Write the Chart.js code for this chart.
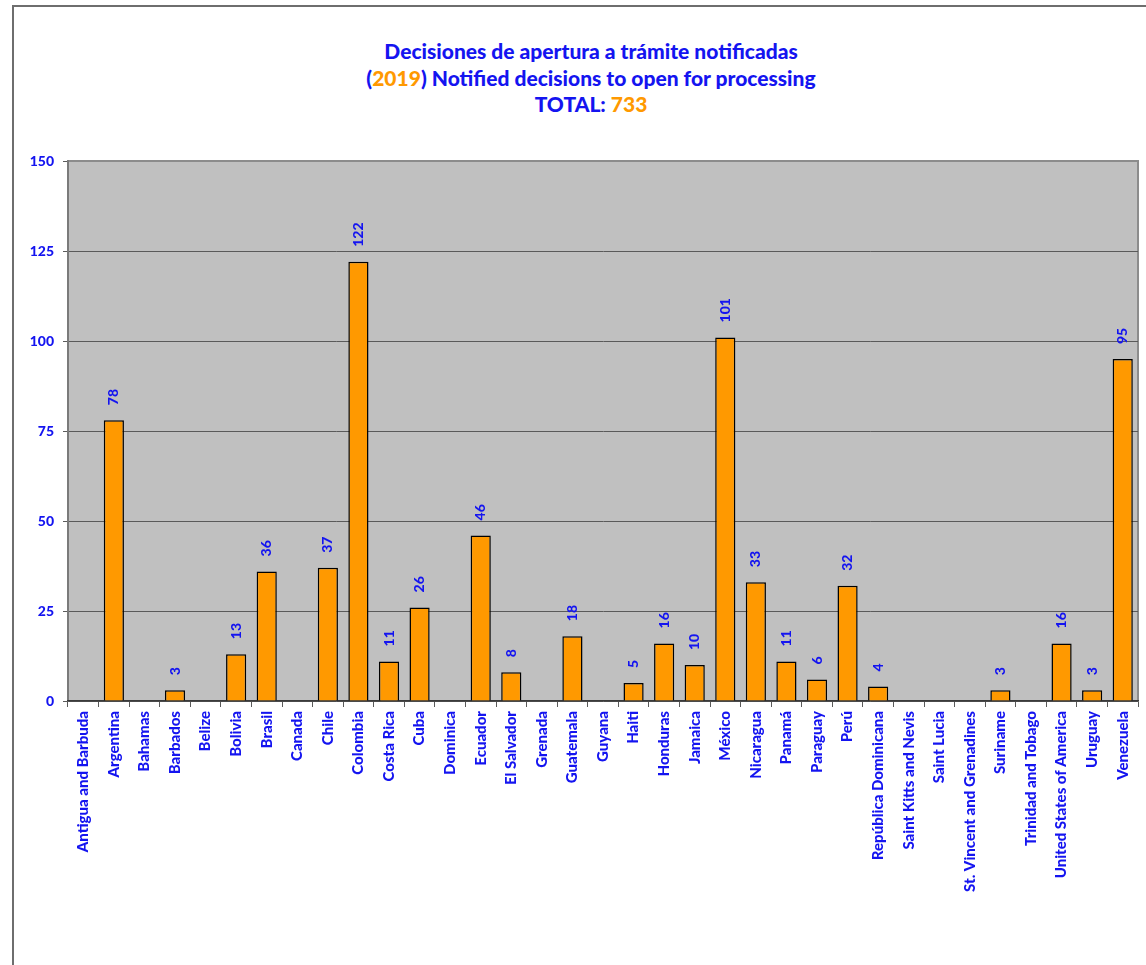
<!DOCTYPE html>
<html>
<head>
<meta charset="utf-8">
<script src="https://cdn.jsdelivr.net/npm/chart.js@4.4.1/dist/chart.umd.min.js"></script>
<style>
    body { margin: 0; background: #fff; }
    #wrap { position: relative; width: 1146px; height: 965px; overflow: hidden; }
    #frame { position: absolute; left: 12px; top: 5px; width: 1200px; height: 1000px;
        border-left: 2px solid #6e6e6e; border-top: 2px solid #6e6e6e; }
    #title { position: absolute; left: 0; top: 38px; width: 1182px; text-align: center;
        font-family: Lato, "Open Sans", sans-serif; font-weight: 900; font-size: 21px;
        line-height: 26.5px; color: #1414f0; }
    #title .hl { color: #ff9900; }
    canvas { position: absolute; left: 0; top: 0; }
</style>
</head>
<body>
<div id="wrap">
    <div id="frame"></div>
    <div id="title">
        <div>Decisiones de apertura a trámite notificadas</div>
        <div>(<span class="hl">2019</span>) Notified decisions to open for processing</div>
        <div>TOTAL: <span class="hl">733</span></div>
    </div>
    <canvas id="chart" width="1146" height="965"></canvas>
</div>
<script>
const paises = [
    "Antigua and Barbuda", "Argentina", "Bahamas", "Barbados", "Belize", "Bolivia", "Brasil",
    "Canada", "Chile", "Colombia", "Costa Rica", "Cuba", "Dominica", "Ecuador", "El Salvador",
    "Grenada", "Guatemala", "Guyana", "Haiti", "Honduras", "Jamaica", "México", "Nicaragua",
    "Panamá", "Paraguay", "Perú", "República Dominicana", "Saint Kitts and Nevis", "Saint Lucia",
    "St. Vincent and Grenadines", "Suriname", "Trinidad and Tobago", "United States of America",
    "Uruguay", "Venezuela"
];
const decisiones = [
    0, 78, 0, 3, 0, 13, 36,
    0, 37, 122, 11, 26, 0, 46, 8,
    0, 18, 0, 5, 16, 10, 101, 33,
    11, 6, 32, 4, 0, 0,
    0, 3, 0, 16,
    3, 95
];
const yTicks = [0, 25, 50, 75, 100, 125, 150];

const AZUL = "#1414f0";
const NARANJA = "#ff9900";
const fuente = "Lato, 'Open Sans', sans-serif";

// fondo gris del area de trazado
const fondoPlot = {
    id: "fondoPlot",
    beforeDraw(chart) {
        const { ctx, chartArea: a } = chart;
        ctx.save();
        ctx.fillStyle = "#c0c0c0";
        ctx.fillRect(a.left, a.top, a.right - a.left, a.bottom - a.top);
        ctx.strokeStyle = "#8c8c8c";
        ctx.lineWidth = 2;
        ctx.beginPath();
        ctx.moveTo(a.left, a.top);
        ctx.lineTo(a.right, a.top);
        ctx.lineTo(a.right, a.bottom);
        ctx.stroke();
        ctx.restore();
    }
};

// etiquetas de valor verticales encima de las barras
const etiquetas = {
    id: "etiquetas",
    afterDatasetsDraw(chart) {
        const { ctx } = chart;
        const meta = chart.getDatasetMeta(0);
        ctx.save();
        ctx.fillStyle = AZUL;
        ctx.font = "900 14px " + fuente;
        ctx.textAlign = "left";
        ctx.textBaseline = "middle";
        meta.data.forEach((bar, i) => {
            const v = decisiones[i];
            if (!v) return;
            ctx.save();
            ctx.translate(bar.x, bar.y - 15);
            ctx.rotate(-Math.PI / 2);
            ctx.fillText(String(v), 0, 0);
            ctx.restore();
        });
        ctx.restore();
    }
};

new Chart(document.getElementById("chart"), {
    type: "bar",
    data: {
        labels: paises,
        datasets: [{
            data: decisiones,
            backgroundColor: NARANJA,
            borderColor: "#000000",
            borderWidth: 1.5,
            barPercentage: 0.66,
            categoryPercentage: 1
        }]
    },
    options: {
        responsive: false,
        animation: false,
        layout: { padding: { top: 161, right: 8, left: 0, bottom: 0 } },
        plugins: {
            legend: { display: false },
            title: { display: false },
            tooltip: { enabled: false }
        },
        scales: {
            y: {
                min: 0,
                max: 150,
                afterBuildTicks: (s) => { s.ticks = yTicks.map((v) => ({ value: v })); },
                afterFit: (s) => { s.width = 68; },
                ticks: {
                    color: AZUL,
                    font: { family: fuente, weight: "900", size: 14 },
                    padding: 9
                },
                grid: {
                    color: (c) => c.tick && c.tick.value === 150 ? "rgba(0,0,0,0)" : "#5a5a5a",
                    tickColor: "#5a5a5a",
                    tickLength: 5,
                    lineWidth: 1
                },
                border: { color: "#7a7a7a", width: 2 }
            },
            x: {
                afterFit: (s) => { s.height = 965 - 701; },
                ticks: {
                    color: AZUL,
                    font: { family: fuente, weight: "900", size: 15 },
                    minRotation: 90,
                    maxRotation: 90,
                    autoSkip: false,
                    padding: 4
                },
                grid: {
                    offset: true,
                    drawOnChartArea: false,
                    drawTicks: true,
                    tickLength: 6,
                    tickColor: "#5a5a5a"
                },
                border: { color: "#3a3a3a", width: 1.5 }
            }
        }
    },
    plugins: [fondoPlot, etiquetas]
});
</script>
</body>
</html>
